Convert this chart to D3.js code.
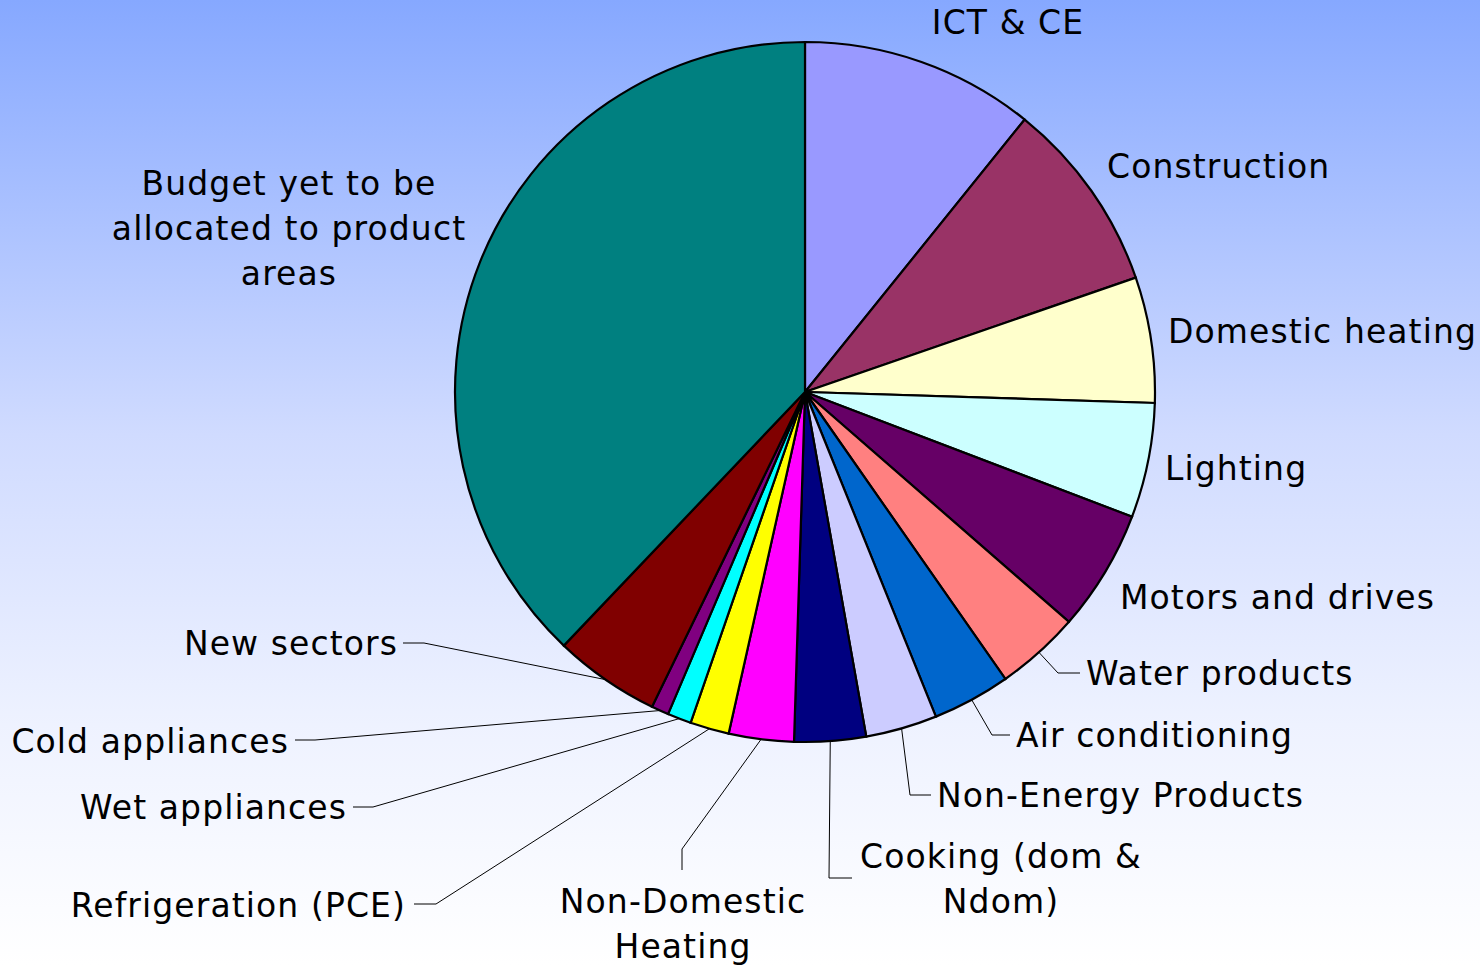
<!doctype html>
<html>
<head>
<meta charset="utf-8">
<title>Budget by product area</title>
<script src="https://cdn.jsdelivr.net/npm/d3@7"></script>
<style>
  body { margin: 0; overflow: hidden; }
  svg { display: block; }
  .lbl { font-family: "DejaVu Sans", Verdana, sans-serif; font-size: 33px; letter-spacing: 1.1px; fill: #000; }
  .leader { fill: none; stroke: #000; stroke-width: 1px; }
  .slice { stroke: #000; stroke-width: 2.2px; }
</style>
</head>
<body>
<script>
// data (share of budget, %), clockwise from 12 o'clock
const categories = [
  "ICT & CE", "Construction", "Domestic heating", "Lighting", "Motors and drives",
  "Water products", "Air conditioning", "Non-Energy Products", "Cooking (dom & Ndom)",
  "Non-Domestic Heating", "Refrigeration (PCE)", "Wet appliances", "Cold appliances",
  "New sectors", "Budget yet to be allocated to product areas"
];
const values = [10.8, 8.9, 5.8, 5.3, 5.6, 3.9, 3.6, 3.3, 3.3, 3.0, 1.8, 1.1, 0.8, 4.9, 37.9];
const colors = [
  "#9999ff", "#993366", "#ffffcc", "#ccffff", "#660066",
  "#ff8080", "#0066cc", "#ccccff", "#000080",
  "#ff00ff", "#ffff00", "#00ffff", "#800080",
  "#800000", "#008080"
];

// label placement (hand-placed, like the original): text lines, anchor, position, optional leader elbow/end
const labelLayout = [
  { lines: ["ICT & CE"], x: 1008, y: 22, anchor: "middle" },
  { lines: ["Construction"], x: 1107, y: 166, anchor: "start" },
  { lines: ["Domestic heating"], x: 1168, y: 331, anchor: "start" },
  { lines: ["Lighting"], x: 1165, y: 468, anchor: "start" },
  { lines: ["Motors and drives"], x: 1120, y: 597, anchor: "start" },
  { lines: ["Water products"], x: 1086, y: 673, anchor: "start", elbow: [1058, 673], end: [1080, 673] },
  { lines: ["Air conditioning"], x: 1016, y: 735, anchor: "start", elbow: [992, 735], end: [1010, 735] },
  { lines: ["Non-Energy Products"], x: 937, y: 795, anchor: "start", elbow: [910, 795], end: [931, 795] },
  { lines: ["Cooking (dom &", "Ndom)"], x: 1001, y: 856, anchor: "middle", elbow: [829, 878], end: [852, 878] },
  { lines: ["Non-Domestic", "Heating"], x: 683, y: 901, anchor: "middle", elbow: [682, 849], end: [682, 870] },
  { lines: ["Refrigeration (PCE)"], x: 406, y: 905, anchor: "end", elbow: [436, 904], end: [414, 904] },
  { lines: ["Wet appliances"], x: 347, y: 807, anchor: "end", elbow: [373, 807], end: [353, 807] },
  { lines: ["Cold appliances"], x: 289, y: 741, anchor: "end", elbow: [315, 740], end: [295, 740] },
  { lines: ["New sectors"], x: 398, y: 643, anchor: "end", elbow: [424, 643], end: [403, 643] },
  { lines: ["Budget yet to be", "allocated to product", "areas"], x: 289, y: 183, anchor: "middle" }
];

const width = 1480, height = 966;
const cx = 805, cy = 392, radius = 350;
const lineGap = 45;

const svg = d3.select("body").append("svg")
    .attr("width", width)
    .attr("height", height);

// background gradient
const grad = svg.append("defs").append("linearGradient")
    .attr("id", "bg").attr("x1", 0).attr("y1", 0).attr("x2", 0).attr("y2", 1);
grad.append("stop").attr("offset", "0%").attr("stop-color", "#86a8ff");
grad.append("stop").attr("offset", "45%").attr("stop-color", "#d0dbff");
grad.append("stop").attr("offset", "75%").attr("stop-color", "#eef2ff");
grad.append("stop").attr("offset", "100%").attr("stop-color", "#ffffff");
svg.append("rect").attr("width", width).attr("height", height).attr("fill", "url(#bg)");

const rows = categories.map((c, i) => ({ name: c, value: values[i], color: colors[i], layout: labelLayout[i] }));

const pie = d3.pie().value(d => d.value).sort(null);
const arc = d3.arc().innerRadius(0).outerRadius(radius);
const arcs = pie(rows);

const g = svg.append("g").attr("transform", `translate(${cx},${cy})`);

g.selectAll("path.slice")
  .data(arcs)
  .join("path")
    .attr("class", "slice")
    .attr("fill", d => d.data.color)
    .attr("d", arc);

// leader lines from mid-angle on the rim
const rimPoint = d => {
  const a = (d.startAngle + d.endAngle) / 2;
  return [cx + radius * Math.sin(a), cy - radius * Math.cos(a)];
};

svg.selectAll("path.leader")
  .data(arcs.filter(d => d.data.layout.elbow))
  .join("path")
    .attr("class", "leader")
    .attr("d", d => d3.line()([rimPoint(d), d.data.layout.elbow, d.data.layout.end]));

// labels
const labels = svg.selectAll("text.lbl")
  .data(arcs)
  .join("text")
    .attr("class", "lbl")
    .attr("text-anchor", d => d.data.layout.anchor)
    .attr("dominant-baseline", "central");

labels.selectAll("tspan")
  .data(d => d.data.layout.lines.map((t, i) => ({ t, i, L: d.data.layout })))
  .join("tspan")
    .attr("x", d => d.L.x)
    .attr("y", d => d.L.y + d.i * lineGap)
    .text(d => d.t);
</script>
</body>
</html>
